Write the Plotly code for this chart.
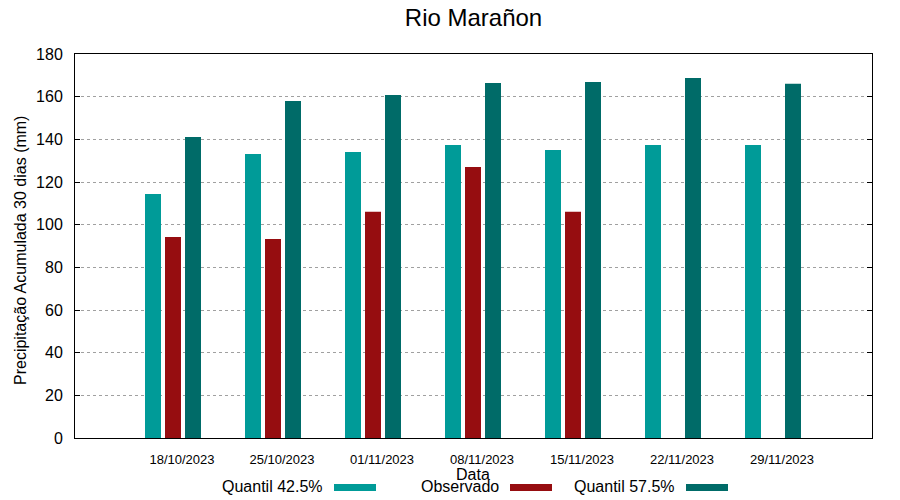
import plotly.graph_objects as go

dates = ["18/10/2023", "25/10/2023", "01/11/2023", "08/11/2023", "15/11/2023", "22/11/2023", "29/11/2023"]
q425 = [114.4, 133.1, 134.1, 137.3, 135.0, 137.3, 137.3]
observado = [94.2, 93.3, 106.0, 127.0, 106.0, None, None]
q575 = [141.1, 158.0, 160.8, 166.4, 166.9, 168.8, 166.0]

names = ["Quantil 42.5%", "Observado", "Quantil 57.5%"]
colors = ["#009b98", "#960d10", "#006b68"]
series = [q425, observado, q575]
offsets = [-0.2, 0.0, 0.2]

idx = list(range(len(dates)))
fig = go.Figure()
for s, name, c, off in zip(series, names, colors, offsets):
    fig.add_trace(go.Bar(x=[i + off for i in idx], y=s, name=name, width=0.16,
                         marker=dict(color=c, line=dict(width=0)), showlegend=False))

# page body has an 8px margin; coordinates below are screen pixels
OFF = 8
W, H = 892, 492
L, T = 75 - OFF, 54 - OFF
R = W - (872 - OFF)
B = H - (438 - OFF)
pw, ph = W - L - R, H - T - B
def px(x):
    return (x - OFF - L) / pw
def py(y):
    return (438 - y) / ph

font = "Liberation Sans, Arial, sans-serif"
fig.update_layout(
    width=W, height=H, margin=dict(l=L, r=R, t=T, b=B),
    plot_bgcolor="white", paper_bgcolor="white",
    font=dict(family=font, color="black"),
    barmode="overlay",
    title=dict(text="Rio Marañon", xref="paper", x=0.5, xanchor="center",
               y=1 - (18 - OFF) / H, yanchor="middle",
               font=dict(size=24, family=font, color="black")),
    xaxis=dict(range=[-0.98, 6.99], tickvals=[i + 0.09 for i in idx], ticktext=dates,
               showgrid=False, zeroline=False, showline=True, linecolor="black", linewidth=1,
               mirror=True, ticks="", tickfont=dict(size=13), ticklabelstandoff=9),
    yaxis=dict(range=[0, 180], tickvals=list(range(0, 181, 20)), showgrid=True,
               gridcolor="#a0a0a0", griddash="dot", gridwidth=1, zeroline=False,
               showline=True, linecolor="black", linewidth=1, mirror="ticks",
               ticks="inside", ticklen=5, tickcolor="black", tickfont=dict(size=16),
               ticklabelstandoff=8),
)

annotations = [
    dict(text="Data", x=px(473), y=py(474), xref="paper", yref="paper", showarrow=False,
         font=dict(size=16), xanchor="center", yanchor="middle"),
    dict(text="Precipitação Acumulada 30 dias (mm)", x=px(21), y=py(251), xref="paper", yref="paper",
         showarrow=False, textangle=-90, font=dict(size=16), xanchor="center", yanchor="middle"),
]
shapes = []
leg_text_right = [325, 501, 677]
for name, c, tr in zip(names, colors, leg_text_right):
    annotations.append(dict(text=name, x=px(tr), y=py(486), xref="paper", yref="paper", showarrow=False,
                            font=dict(size=16), xanchor="right", yanchor="middle"))
    shapes.append(dict(type="rect", xref="paper", yref="paper", x0=px(tr + 9), x1=px(tr + 51),
                       y0=py(491), y1=py(484), fillcolor=c, line=dict(width=0)))
fig.update_layout(annotations=annotations, shapes=shapes)

fig.write_html("out.html")
